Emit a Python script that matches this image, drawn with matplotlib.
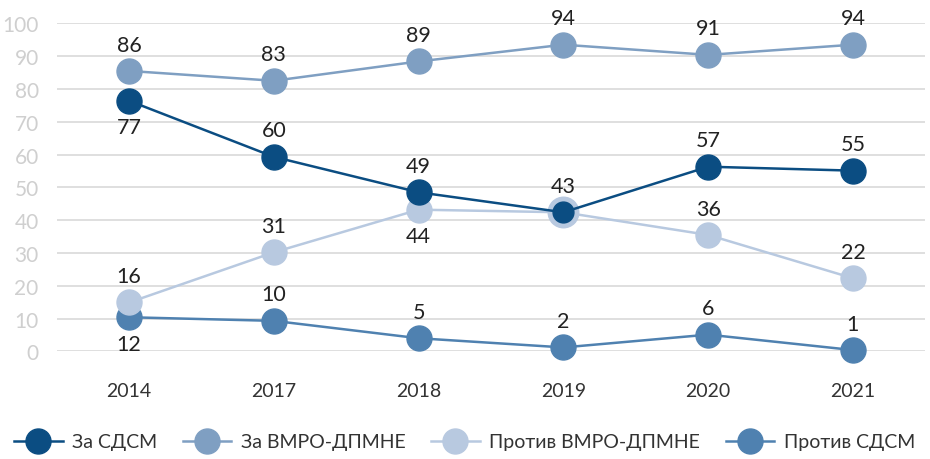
import matplotlib
matplotlib.use('Agg')
import matplotlib.pyplot as plt

plt.rcParams['font.family'] = ['Lato', 'DejaVu Sans']

years = ['2014', '2017', '2018', '2019', '2020', '2021']

za_sdsm = [76.4, 59.3, 48.5, 42.4, 56.3, 55.1]
za_vmro = [85.5, 82.5, 88.4, 93.5, 90.4, 93.5]
protiv_vmro = [14.9, 30.2, 43.2, 42.4, 35.5, 22.3]
protiv_sdsm = [10.4, 9.3, 4.0, 1.2, 5.1, 0.4]

za_sdsm_lbl = ['77', '60', '49', '43', '57', '55']
za_vmro_lbl = ['86', '83', '89', '94', '91', '94']
protiv_vmro_lbl = ['16', '31', '44', '', '36', '22']
protiv_sdsm_lbl = ['12', '10', '5', '2', '6', '1']

# label placement: +1 above the marker, -1 below
za_sdsm_pos = [-1, 1, 1, 1, 1, 1]
za_vmro_pos = [1, 1, 1, 1, 1, 1]
protiv_vmro_pos = [1, 1, -1, 1, 1, 1]
protiv_sdsm_pos = [-1, 1, 1, 1, 1, 1]

series = [
    ('Против СДСМ', protiv_sdsm, protiv_sdsm_lbl, protiv_sdsm_pos, '#4f81b0'),
    ('Против ВМРО-ДПМНЕ', protiv_vmro, protiv_vmro_lbl, protiv_vmro_pos, '#b8c9e0'),
    ('За ВМРО-ДПМНЕ', za_vmro, za_vmro_lbl, za_vmro_pos, '#7f9fc2'),
    ('За СДСМ', za_sdsm, za_sdsm_lbl, za_sdsm_pos, '#0b4d82'),
]

# 2019: the two middle series overlap, navy dot sits inside a bigger light one
overlap = 3

fig = plt.figure(figsize=(9.3, 4.6), dpi=100)
ax = fig.add_axes([0.061, 0.234, 0.934, 0.713])

x = list(range(len(years)))
handles = {}
for name, vals, lbls, pos, col in series:
    every = list(x)
    if name == 'За СДСМ':
        every.remove(overlap)
    ln, = ax.plot(x, vals, color=col, lw=1.8, marker='o', ms=18,
                  markevery=every, clip_on=False, zorder=3, label=name)
    handles[name] = ln
    if name == 'Против ВМРО-ДПМНЕ':
        ax.plot([x[overlap]], [vals[overlap]], 'o', color=col, ms=22, zorder=3)
    if name == 'За СДСМ':
        ax.plot([x[overlap]], [vals[overlap]], 'o', color=col, ms=15, zorder=4)
    for xi, v, t, p in zip(x, vals, lbls, pos):
        if not t:
            continue
        ax.annotate(t, (xi, v), xytext=(0, 19 * p), textcoords='offset points',
                    ha='center', va='center', fontsize=15.5, color='#222222',
                    zorder=5)

ax.set_xlim(-0.5, 5.5)
ax.set_ylim(0, 100)
ax.set_yticks(range(0, 101, 10))
ax.set_xticks(x)
ax.set_xticklabels(years)
ax.grid(axis='y', color='#d9d9d9', lw=1.2)
ax.set_axisbelow(True)
for s in ax.spines.values():
    s.set_visible(False)
ax.tick_params(axis='both', length=0)
ax.tick_params(axis='y', labelsize=15, labelcolor='#cfcfcf', pad=13)
ax.tick_params(axis='x', labelsize=14, labelcolor='#333333', pad=22)

order = ['За СДСМ', 'За ВМРО-ДПМНЕ', 'Против ВМРО-ДПМНЕ', 'Против СДСМ']
leg = fig.legend([handles[n] for n in order], order, loc='center left',
                 bbox_to_anchor=(14 / 930, 0.037), ncol=4, frameon=False,
                 fontsize=14, markerscale=1.0, handlelength=2.5,
                 columnspacing=1.3, handletextpad=0.5,
                 borderpad=0, borderaxespad=0)
for t in leg.get_texts():
    t.set_color('#333333')

fig.savefig('out.png', dpi=100)
